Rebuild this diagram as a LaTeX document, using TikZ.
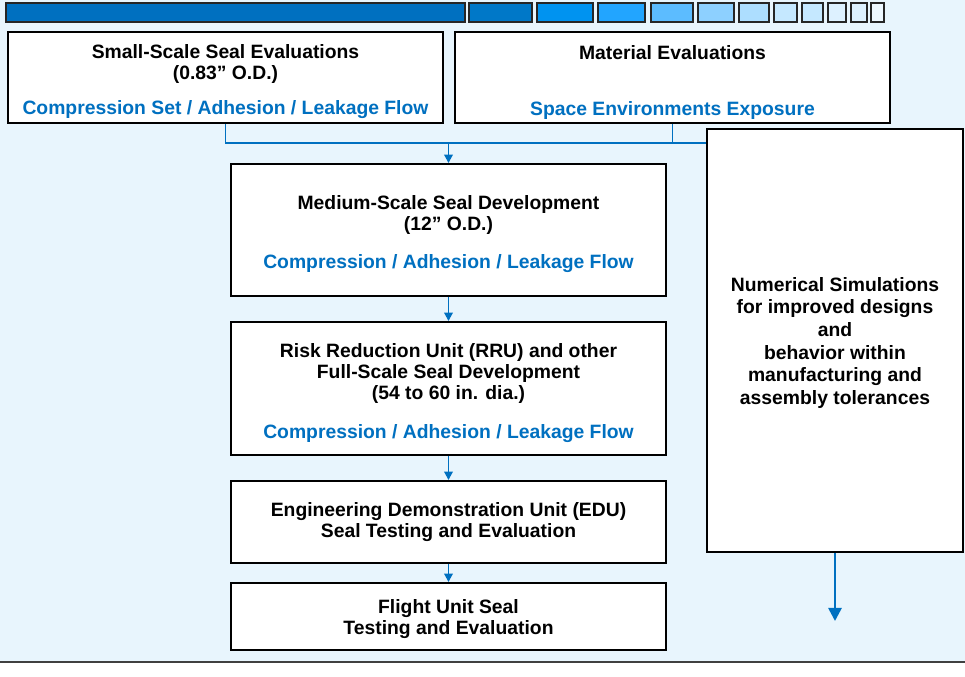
\documentclass[tikz,border=0pt]{standalone}
\usepackage{fontspec}
\setmainfont{Liberation Sans}
\usepackage{tikz}
\usetikzlibrary{arrows.meta,shadows}
\definecolor{seablue}{HTML}{0070C0}
\definecolor{paleback}{HTML}{E8F5FD}
\tikzset{>={Triangle[width=4.8pt,length=4.8pt]}}
\tikzset{
  box/.style={draw, line width=1.1pt, fill=white, align=center, inner sep=0pt,
    minimum width=8.7cm,
    drop shadow={shadow xshift=0.7pt, shadow yshift=-0.7pt, fill=black!60, opacity=1}},
  link/.style={draw=seablue, line width=1.1pt},
  cell/.style={draw=black!85, line width=0.9pt}
}

\begin{document}
\begin{tikzpicture}[x=0.02cm, y=-0.02cm, font=\bfseries\fontsize{11}{12}\selectfont]

  \newcommand\Drop[1]{\rule{0pt}{#1}}

  \useasboundingbox (0,0) rectangle (965,677);
  \fill[paleback] (0,0) rectangle (965,662);
  \draw[line width=1.4pt, black!75] (0,662) -- (965,662);

  %% progress bar
  \foreach \xa/\xb/\hex in {6/465/0070C0, 469/532/0078C8, 537/593/0093F0, 598/645/22A5FF,
      651/693/5CBCFF, 698/734/8DD0FF, 739/769/ADDEFF, 774/797/C5E8FF, 802/823/C5E8FF,
      828/846/DDF1FF, 851/867/DDF1FF, 871/884/EEF8FF}{
    \definecolor{celltint}{HTML}{\hex}
    \draw[cell, fill=celltint] (\xa,3) rectangle (\xb,22);
  }

  %% boxes
  \node[box, minimum height=1.82cm] (small) at (225.5,77.5)
    {\Drop{13pt}Small-Scale Seal Evaluations\\(0.83” O.D.)\\[0.28cm]\textcolor{seablue}{Compression Set / Adhesion / Leakage Flow}};
  \node[box, minimum height=1.82cm] (material) at (672.5,77.5)
    {\Drop{13.5pt}Material Evaluations\\[0.7cm]\textcolor{seablue}{Space Environments Exposure}};
  \node[box, minimum height=2.64cm] (medium) at (448.5,230)
    {\Drop{12.4pt}Medium-Scale Seal Development\\(12” O.D.)\\[0.34cm]\textcolor{seablue}{Compression / Adhesion / Leakage Flow}};
  \node[box, minimum height=2.66cm] (rru) at (448.5,388.5)
    {\Drop{12.8pt}Risk Reduction Unit (RRU) and other\\Full-Scale Seal Development\\(54 to 60 in. dia.)\\[0.36cm]\textcolor{seablue}{Compression / Adhesion / Leakage Flow}};
  \node[box, minimum height=1.64cm] (edu) at (448.5,522)
    {Engineering Demonstration Unit (EDU)\\Seal Testing and Evaluation};
  \node[box, minimum height=1.34cm] (flight) at (448.5,616.5)
    {\Drop{10.8pt}Flight Unit Seal\\Testing and Evaluation};
  \node[box, minimum width=5.12cm, minimum height=8.46cm] (numerical) at (835,340.5)
    {\Drop{10.8pt}Numerical Simulations\\[0.9pt]for improved designs\\[0.9pt]and\\[0.9pt]behavior within\\[0.9pt]manufacturing and\\[0.9pt]assembly tolerances};

  %% connectors
  \coordinate (hub) at (448.5,143);
  \coordinate (ahead) at (835,621);
  \draw[link] (small.south) |- (numerical.west |- hub);
  \draw[link] (material.south) -- (material.south |- hub);
  \draw[link, ->] (hub) -- (medium.north);
  \draw[link, ->] (medium.south) -- (rru.north);
  \draw[link, ->] (rru.south) -- (edu.north);
  \draw[link, ->] (edu.south) -- (flight.north);
  \draw[link, line width=1.5pt, -{Triangle[width=7.5pt,length=7.5pt]}] (numerical.south) -- (ahead);

\end{tikzpicture}
\end{document}
